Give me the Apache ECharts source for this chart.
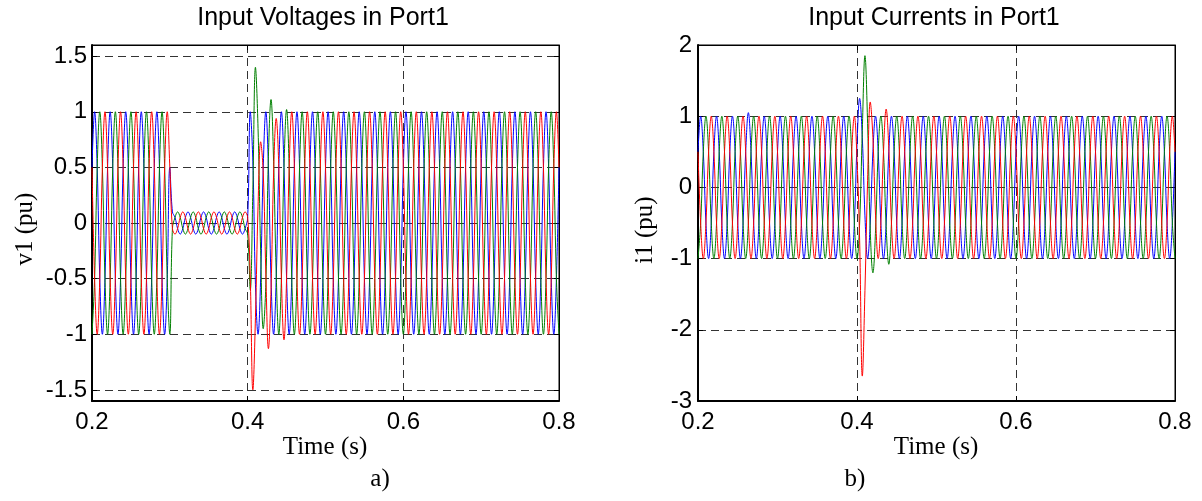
<!DOCTYPE html>
<html><head><meta charset="utf-8">
<script src="https://cdn.jsdelivr.net/npm/echarts@6.0.0/dist/echarts.min.js"></script>
<style>html,body{margin:0;padding:0;background:#fff}#c{width:1202px;height:501px}</style>
</head><body><div id="c"></div>
<script>
// sampling grid of the simulated waveforms (s)
const T_START = 0.2, T_STEP = 1 / 300;
const xTicks = [0.2, 0.4, 0.6, 0.8];
const vTicks = [-1.5, -1, -0.5, 0, 0.5, 1, 1.5];
const iTicks = [-3, -2, -1, 0, 1, 2];

// Panel a) input voltages v1 (pu)
const v1Blue = [
0.5,1,0.5,-0.5,-1,-0.5, 0.5,1,0.5,-0.5,-1,-0.5, 0.5,1,0.5,-0.5,-1,-0.5, 0.5,1,0.5,-0.5,-1,-0.5, 0.5,1,0.5,-0.5,-1,-0.5,
0.5,0.1,0.05,-0.05,-0.1,-0.05, 0.05,0.1,0.05,-0.05,-0.1,-0.05, 0.05,0.1,0.05,-0.05,-0.1,-0.05, 0.05,0.1,0.05,-0.05,-0.1,-0.05, 0.05,0.1,0.05,-0.05,-0.1,-0.05,
0.05,1.0,0.55,-0.55,-1.0,-0.5,
0.5,1,0.5,-0.5,-1,-0.5, 0.5,1,0.5,-0.5,-1,-0.5, 0.5,1,0.5,-0.5,-1,-0.5, 0.5,1,0.5,-0.5,-1,-0.5, 0.5,1,0.5,-0.5,-1,-0.5,
0.5,1,0.5,-0.5,-1,-0.5, 0.5,1,0.5,-0.5,-1,-0.5, 0.5,1,0.5,-0.5,-1,-0.5, 0.5,1,0.5,-0.5,-1,-0.5, 0.5,1,0.5,-0.5,-1,-0.5,
0.5,1,0.5,-0.5,-1,-0.5, 0.5,1,0.5,-0.5,-1,-0.5, 0.5,1,0.5,-0.5,-1,-0.5, 0.5,1,0.5,-0.5,-1,-0.5, 0.5,1,0.5,-0.5,-1,-0.5,
0.5,1,0.5,-0.5,-1,-0.5, 0.5,1,0.5,-0.5,-1,-0.5, 0.5,1,0.5,-0.5,-1,-0.5, 0.5,1,0.5,-0.5,-1,-0.5,
0.5];
const v1Green = [
-1,-0.5,0.5,1,0.5,-0.5, -1,-0.5,0.5,1,0.5,-0.5, -1,-0.5,0.5,1,0.5,-0.5, -1,-0.5,0.5,1,0.5,-0.5, -1,-0.5,0.5,1,0.5,-0.5,
-1,-0.05,0.05,0.1,0.05,-0.05, -0.1,-0.05,0.05,0.1,0.05,-0.05, -0.1,-0.05,0.05,0.1,0.05,-0.05, -0.1,-0.05,0.05,0.1,0.05,-0.05, -0.1,-0.05,0.05,0.1,0.05,-0.05,
-0.1,-0.6,0.3,1.4,0.85,-0.25,
-0.95,-0.55,0.6,1.11,0.55,-0.45,
-1,-0.5,0.5,1.02,0.5,-0.5,
-1,-0.5,0.5,1,0.5,-0.5, -1,-0.5,0.5,1,0.5,-0.5, -1,-0.5,0.5,1,0.5,-0.5, -1,-0.5,0.5,1,0.5,-0.5, -1,-0.5,0.5,1,0.5,-0.5,
-1,-0.5,0.5,1,0.5,-0.5, -1,-0.5,0.5,1,0.5,-0.5, -1,-0.5,0.5,1,0.5,-0.5, -1,-0.5,0.5,1,0.5,-0.5, -1,-0.5,0.5,1,0.5,-0.5,
-1,-0.5,0.5,1,0.5,-0.5, -1,-0.5,0.5,1,0.5,-0.5, -1,-0.5,0.5,1,0.5,-0.5, -1,-0.5,0.5,1,0.5,-0.5, -1,-0.5,0.5,1,0.5,-0.5,
-1,-0.5,0.5,1,0.5,-0.5, -1,-0.5,0.5,1,0.5,-0.5,
-1];
const v1Red = [
0.5,-0.5,-1,-0.5,0.5,1, 0.5,-0.5,-1,-0.5,0.5,1, 0.5,-0.5,-1,-0.5,0.5,1, 0.5,-0.5,-1,-0.5,0.5,1, 0.5,-0.5,-1,-0.5,0.5,1,
0.5,-0.05,-0.1,-0.05,0.05,0.1, 0.05,-0.05,-0.1,-0.05,0.05,0.1, 0.05,-0.05,-0.1,-0.05,0.05,0.1, 0.05,-0.05,-0.1,-0.05,0.05,0.1, 0.05,-0.05,-0.1,-0.05,0.05,0.1,
0.05,-0.5,-1.5,-0.85,0.15,0.73,
0.45,-0.45,-1.13,-0.6,0.45,0.94,
0.5,-0.5,-1.05,-0.5,0.5,1,
0.5,-0.5,-1,-0.5,0.5,1, 0.5,-0.5,-1,-0.5,0.5,1, 0.5,-0.5,-1,-0.5,0.5,1, 0.5,-0.5,-1,-0.5,0.5,1, 0.5,-0.5,-1,-0.5,0.5,1,
0.5,-0.5,-1,-0.5,0.5,1, 0.5,-0.5,-1,-0.5,0.5,1, 0.5,-0.5,-1,-0.5,0.5,1, 0.5,-0.5,-1,-0.5,0.5,1, 0.5,-0.5,-1,-0.5,0.5,1,
0.5,-0.5,-1,-0.5,0.5,1, 0.5,-0.5,-1,-0.5,0.5,1, 0.5,-0.5,-1,-0.5,0.5,1, 0.5,-0.5,-1,-0.5,0.5,1, 0.5,-0.5,-1,-0.5,0.5,1,
0.5,-0.5,-1,-0.5,0.5,1, 0.5,-0.5,-1,-0.5,0.5,1,
0.5];

// Panel b) input currents i1 (pu)
const i1Blue = [
0.5,1,0.5,-0.5,-1,-0.5, 0.5,1,0.5,-0.5,-1,-0.5, 0.5,1,0.5,-0.5,-1,-0.5, 0.5,1.05,0.5,-0.5,-1,-0.5, 0.5,1,0.5,-0.5,-1,-0.5,
0.5,1,0.5,-0.5,-1,-0.5, 0.5,1,0.5,-0.5,-1,-0.5, 0.5,1,0.5,-0.5,-1,-0.5, 0.5,1,0.5,-0.5,-1,-0.5, 0.5,1,0.5,-0.5,-1,-0.5,
0.6,1.25,0.7,-0.4,-1.0,-0.5,
0.5,1.0,0.5,-0.5,-1.0,-0.5,
0.5,1,0.5,-0.5,-1,-0.5, 0.5,1,0.5,-0.5,-1,-0.5, 0.5,1,0.5,-0.5,-1,-0.5, 0.5,1,0.5,-0.5,-1,-0.5, 0.5,1,0.5,-0.5,-1,-0.5,
0.5,1,0.5,-0.5,-1,-0.5, 0.5,1,0.5,-0.5,-1,-0.5, 0.5,1,0.5,-0.5,-1,-0.5, 0.5,1,0.5,-0.5,-1,-0.5, 0.5,1,0.5,-0.5,-1,-0.5,
0.5,1,0.5,-0.5,-1,-0.5, 0.5,1,0.5,-0.5,-1,-0.5, 0.5,1,0.5,-0.5,-1,-0.5, 0.5,1,0.5,-0.5,-1,-0.5, 0.5,1,0.5,-0.5,-1,-0.5,
0.5,1,0.5,-0.5,-1,-0.5, 0.5,1,0.5,-0.5,-1,-0.5, 0.5,1,0.5,-0.5,-1,-0.5,
0.5];
const i1Green = [
-1,-0.5,0.5,1,0.5,-0.5, -1,-0.5,0.5,1,0.5,-0.5, -1,-0.5,0.5,1,0.5,-0.5, -1,-0.5,0.5,1,0.5,-0.5, -1,-0.5,0.5,1,0.5,-0.5,
-1,-0.5,0.5,1,0.5,-0.5, -1,-0.5,0.5,1,0.5,-0.5, -1,-0.5,0.5,1,0.5,-0.5, -1,-0.5,0.5,1,0.5,-0.5, -1,-0.5,0.5,1,0.5,-0.5,
-1.0,-0.5,0.8,1.85,0.9,-0.6,
-1.2,-0.6,0.5,1.0,0.5,-0.55,
-1.08,-0.5,0.5,1,0.5,-0.5,
-1,-0.5,0.5,1,0.5,-0.5, -1,-0.5,0.5,1,0.5,-0.5, -1,-0.5,0.5,1,0.5,-0.5, -1,-0.5,0.5,1,0.5,-0.5, -1,-0.5,0.5,1,0.5,-0.5,
-1,-0.5,0.5,1,0.5,-0.5, -1,-0.5,0.5,1,0.5,-0.5, -1,-0.5,0.5,1,0.5,-0.5, -1,-0.5,0.5,1,0.5,-0.5, -1,-0.5,0.5,1,0.5,-0.5,
-1,-0.5,0.5,1,0.5,-0.5, -1,-0.5,0.5,1,0.5,-0.5, -1,-0.5,0.5,1,0.5,-0.5, -1,-0.5,0.5,1,0.5,-0.5, -1,-0.5,0.5,1,0.5,-0.5,
-1,-0.5,0.5,1,0.5,-0.5, -1,-0.5,0.5,1,0.5,-0.5,
-1];
const i1Red = [
0.5,-0.5,-1,-0.5,0.5,1, 0.5,-0.5,-1,-0.5,0.5,1, 0.5,-0.5,-1,-0.5,0.5,1, 0.5,-0.5,-1,-0.5,0.5,1, 0.5,-0.5,-1,-0.5,0.5,1,
0.5,-0.5,-1,-0.5,0.5,1, 0.5,-0.5,-1,-0.5,0.5,1, 0.5,-0.5,-1,-0.5,0.5,1, 0.5,-0.5,-1,-0.5,0.5,1, 0.5,-0.5,-1,-0.5,0.5,1,
0.4,-0.75,-2.65,-1.45,0.1,1.2,
0.7,-0.4,-1.0,-0.5,0.5,1.1,
0.55,-0.5,-1,-0.5,0.5,1,
0.5,-0.5,-1,-0.5,0.5,1, 0.5,-0.5,-1,-0.5,0.5,1, 0.5,-0.5,-1,-0.5,0.5,1, 0.5,-0.5,-1,-0.5,0.5,1, 0.5,-0.5,-1,-0.5,0.5,1,
0.5,-0.5,-1,-0.5,0.5,1, 0.5,-0.5,-1,-0.5,0.5,1, 0.5,-0.5,-1,-0.5,0.5,1, 0.5,-0.5,-1,-0.5,0.5,1, 0.5,-0.5,-1,-0.5,0.5,1,
0.5,-0.5,-1,-0.5,0.5,1, 0.5,-0.5,-1,-0.5,0.5,1, 0.5,-0.5,-1,-0.5,0.5,1, 0.5,-0.5,-1,-0.5,0.5,1, 0.5,-0.5,-1,-0.5,0.5,1,
0.5,-0.5,-1,-0.5,0.5,1, 0.5,-0.5,-1,-0.5,0.5,1,
0.5];

const time = v1Blue.map((_, k) => +(T_START + k * T_STEP).toFixed(6));
const pairs = arr => arr.map((v, k) => [time[k], v]);

const SANS = 'Liberation Sans, Arial, Helvetica, sans-serif';
const SERIF = 'Liberation Serif, Times New Roman, serif';
const gridDash = { type: [8, 5], color: '#333', width: 1 };

function mainX(gi) {
  return {
    type: 'value', gridIndex: gi, min: 0.2, max: 0.8, interval: 0.2,
    axisLine: { show: true, onZero: false, lineStyle: { color: '#000', width: 2 } },
    axisTick: { show: true, inside: true, length: 5, lineStyle: { color: '#000' } },
    axisLabel: { fontSize: 24, color: '#000', fontFamily: SANS, margin: 9, formatter: v => v.toFixed(1) },
    splitLine: { show: true, lineStyle: gridDash }
  };
}
function topX(gi) {
  return {
    type: 'value', gridIndex: gi, position: 'top', min: 0.2, max: 0.8, interval: 0.2,
    axisLine: { show: true, onZero: false, lineStyle: { color: '#000', width: 1 } },
    axisTick: { show: true, inside: true, length: 5, lineStyle: { color: '#000' } },
    axisLabel: { show: false }, splitLine: { show: false }
  };
}
function sideY(gi, min, max, ticks) {
  return {
    type: 'value', gridIndex: gi, position: 'right', min, max,
    axisLine: { show: true, onZero: false, lineStyle: { color: '#000', width: 1 } },
    axisTick: { show: true, inside: true, length: 5, customValues: ticks, lineStyle: { color: '#000' } },
    axisLabel: { show: false }, splitLine: { show: false }
  };
}

const option = {
  animation: false,
  backgroundColor: '#fff',
  grid: [
    { left: 92, top: 45, width: 467, height: 356, show: true, borderColor: '#000', borderWidth: 1 },
    { left: 698, top: 45, width: 477, height: 356, show: true, borderColor: '#000', borderWidth: 1 }
  ],
  xAxis: [mainX(0), mainX(1), topX(0), topX(1)],
  yAxis: [
    {
      type: 'value', gridIndex: 0, min: -1.6, max: 1.6,
      axisLine: { show: true, onZero: false, lineStyle: { color: '#000', width: 2 } },
      axisTick: { show: true, inside: true, length: 5, customValues: vTicks, lineStyle: { color: '#000' } },
      axisLabel: { fontSize: 24, color: '#000', fontFamily: SANS, margin: 5, customValues: vTicks, formatter: v => String(v) },
      splitLine: { show: true, lineStyle: gridDash }
    },
    {
      type: 'value', gridIndex: 1, min: -3, max: 2, interval: 1,
      axisLine: { show: true, onZero: false, lineStyle: { color: '#000', width: 2 } },
      axisTick: { show: true, inside: true, length: 5, lineStyle: { color: '#000' } },
      axisLabel: { fontSize: 24, color: '#000', fontFamily: SANS, margin: 6, formatter: v => String(v) },
      splitLine: { show: true, lineStyle: gridDash }
    },
    sideY(0, -1.6, 1.6, vTicks),
    sideY(1, -3, 2, iTicks)
  ],
  series: [
    { name: 'v1 a', data: pairs(v1Blue), color: '#0000ff' , xAxisIndex: 0, yAxisIndex: 0 },
    { name: 'v1 b', data: pairs(v1Green), color: '#008000', xAxisIndex: 0, yAxisIndex: 0 },
    { name: 'v1 c', data: pairs(v1Red), color: '#ff0000', xAxisIndex: 0, yAxisIndex: 0 },
    { name: 'i1 a', data: pairs(i1Blue), color: '#0000ff', xAxisIndex: 1, yAxisIndex: 1 },
    { name: 'i1 b', data: pairs(i1Green), color: '#008000', xAxisIndex: 1, yAxisIndex: 1 },
    { name: 'i1 c', data: pairs(i1Red), color: '#ff0000', xAxisIndex: 1, yAxisIndex: 1 }
  ].map(s => Object.assign({
    type: 'line', showSymbol: false, smooth: 0.4, lineStyle: { width: 1, color: s.color }
  }, s)),
  graphic: [
    { type: 'text', x: 323, y: 18, style: { text: 'Input Voltages in Port1', fontSize: 25, fontFamily: SANS, fill: '#000', textAlign: 'center', textVerticalAlign: 'middle' } },
    { type: 'text', x: 934, y: 18, style: { text: 'Input Currents in Port1', fontSize: 25, fontFamily: SANS, fill: '#000', textAlign: 'center', textVerticalAlign: 'middle' } },
    { type: 'text', x: 25, y: 229, rotation: Math.PI / 2, style: { text: 'v1 (pu)', fontSize: 25, fontFamily: SERIF, fill: '#000', textAlign: 'center', textVerticalAlign: 'middle' } },
    { type: 'text', x: 645, y: 230, rotation: Math.PI / 2, style: { text: 'i1 (pu)', fontSize: 25, fontFamily: SERIF, fill: '#000', textAlign: 'center', textVerticalAlign: 'middle' } },
    { type: 'text', x: 325, y: 447, style: { text: 'Time (s)', fontSize: 25, fontFamily: SERIF, fill: '#000', textAlign: 'center', textVerticalAlign: 'middle' } },
    { type: 'text', x: 936, y: 447, style: { text: 'Time (s)', fontSize: 25, fontFamily: SERIF, fill: '#000', textAlign: 'center', textVerticalAlign: 'middle' } },
    { type: 'text', x: 380, y: 479, style: { text: 'a)', fontSize: 25, fontFamily: SERIF, fill: '#000', textAlign: 'center', textVerticalAlign: 'middle' } },
    { type: 'text', x: 855, y: 479, style: { text: 'b)', fontSize: 25, fontFamily: SERIF, fill: '#000', textAlign: 'center', textVerticalAlign: 'middle' } }
  ]
};
const chart = echarts.init(document.getElementById('c'), null, { renderer: 'canvas' });
chart.setOption(option);
</script>
</body></html>
